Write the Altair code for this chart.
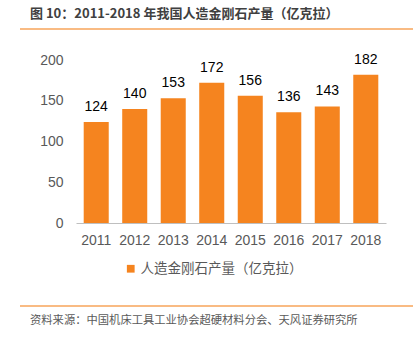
import altair as alt
import pandas as pd

years = ["2011", "2012", "2013", "2014", "2015", "2016", "2017", "2018"]
values = [124, 140, 153, 172, 156, 136, 143, 182]
series = "人造金刚石产量（亿克拉）"
title_text = "图 10：2011-2018 年我国人造金刚石产量（亿克拉）"
source_text = "资料来源：中国机床工具工业协会超硬材料分会、天风证券研究所"

df = pd.DataFrame({"year": years, "value": values, "series": [series] * len(years)})

ORANGE = "#F5841F"
GREY = "#595959"
FONT = "Liberation Sans, Noto Sans CJK SC"
CJK = "Noto Sans CJK SC"

base = alt.Chart(df)

bars = base.mark_bar(color=ORANGE).encode(
    x=alt.X("year:N", sort=years, title=None,
            scale=alt.Scale(paddingInner=0.35, paddingOuter=0.2),
            axis=alt.Axis(labelAngle=0, labelFontSize=14, labelColor=GREY, labelFont=FONT,
                          ticks=False, domainColor="#BFBFBF", labelPadding=10)),
    y=alt.Y("value:Q", title=None,
            scale=alt.Scale(domain=[0, 200]),
            axis=alt.Axis(values=[0, 50, 100, 150, 200], grid=False, domain=False, ticks=False,
                          labelFontSize=14, labelColor=GREY, labelFont=FONT, labelPadding=13)),
    color=alt.Color("series:N", scale=alt.Scale(range=[ORANGE]),
                    legend=alt.Legend(title=None, orient="none", legendX=48, legendY=202,
                                      symbolType="square", symbolSize=60, labelLimit=400,
                                      labelFontSize=13.5, labelColor=GREY, labelFont=CJK,
                                      labelOffset=3)),
)

labels = base.mark_text(baseline="bottom", dy=-8, fontSize=14, color="#000000", font=FONT).encode(
    x=alt.X("year:N", sort=years),
    y=alt.Y("value:Q"),
    text=alt.Text("value:Q"),
)

title = alt.Chart(pd.DataFrame({"t": [title_text]})).mark_text(
    align="left", baseline="middle", fontSize=13, fontWeight="bold", color="#404040", font=CJK
).encode(x=alt.value(-46), y=alt.value(-46), text="t:N")

source = alt.Chart(pd.DataFrame({"t": [source_text]})).mark_text(
    align="left", baseline="middle", fontSize=11.3, color=GREY, font=CJK
).encode(x=alt.value(-46), y=alt.value(261), text="t:N")

line_top = alt.Chart(pd.DataFrame({"a": [0]})).mark_rule(color="#F7A55A", strokeWidth=1.5).encode(
    x=alt.value(-56), x2=alt.value(337), y=alt.value(-31))
line_bot = alt.Chart(pd.DataFrame({"a": [0]})).mark_rule(color="#F7A55A", strokeWidth=1.5).encode(
    x=alt.value(-56), x2=alt.value(337), y=alt.value(246))

chart = alt.layer(bars, labels, title, source, line_top, line_bot).properties(
    width=310, height=163,
    autosize=alt.AutoSizeParams(type="none"),
    padding={"left": 76, "top": 60, "right": 31, "bottom": 117},
    background="white",
).configure_view(stroke=None)

chart.save("out.html", embed_options={"renderer": "svg", "actions": False})
